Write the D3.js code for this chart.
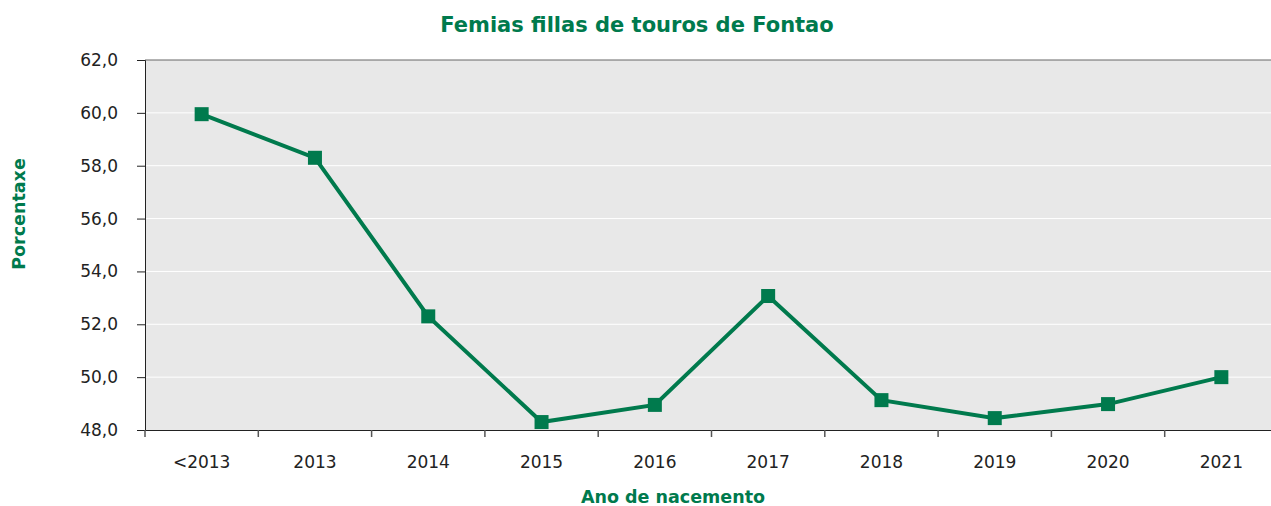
<!DOCTYPE html>
<html>
<head>
<meta charset="utf-8">
<script src="https://cdn.jsdelivr.net/npm/d3@7"></script>
<style>
  body { margin: 0; background: #fff; }
  text { font-family: "DejaVu Sans", sans-serif; }
</style>
</head>
<body>
<div id="chart"></div>
<script>
// Data
const years = ["<2013", "2013", "2014", "2015", "2016", "2017", "2018", "2019", "2020", "2021"];
const percents = [59.95, 58.3, 52.3, 48.3, 48.95, 53.07, 49.13, 48.45, 48.98, 50.0];
const yTicks = [48, 50, 52, 54, 56, 58, 60, 62];

const width = 1271,
  height = 506;

const margin = { top: 60, bottom: 76, left: 145, right: -7 };
const green = "#007a4d";

const svg = d3.select("#chart")
  .append("svg")
  .attr("width", width)
  .attr("height", height);

const xScale = d3.scaleBand()
  .domain(years)
  .range([margin.left, width - margin.right]);

const yScale = d3.scaleLinear()
  .domain([48, 62])
  .range([height - margin.bottom, margin.top]);

// Plot background
svg.append("rect")
  .attr("x", margin.left)
  .attr("y", margin.top)
  .attr("width", width - margin.left)
  .attr("height", yScale(48) - yScale(62))
  .attr("fill", "#e8e8e8");

// Grid lines
svg.selectAll(".grid")
  .data(yTicks.filter(d => d > 48 && d < 62))
  .enter()
  .append("line")
  .attr("x1", margin.left)
  .attr("x2", width)
  .attr("y1", d => yScale(d))
  .attr("y2", d => yScale(d))
  .attr("stroke", "#fff")
  .attr("stroke-width", 1);

// Top border
svg.append("line")
  .attr("x1", margin.left)
  .attr("x2", width)
  .attr("y1", yScale(62))
  .attr("y2", yScale(62))
  .attr("stroke", "#666")
  .attr("stroke-width", 1);

// Y axis
const yAxis = svg.append("g")
  .attr("transform", `translate(${margin.left}, 0)`)
  .call(d3.axisLeft(yScale)
    .tickValues(yTicks)
    .tickSize(8)
    .tickPadding(19)
    .tickFormat(d => d3.format(".1f")(d).replace(".", ",")));
yAxis.select(".domain").attr("stroke", "#222");
yAxis.selectAll("line").attr("stroke", "#222");
yAxis.selectAll("text")
  .style("font-size", "17px")
  .attr("fill", "#222");

// X axis
const xAxis = svg.append("g")
  .attr("transform", `translate(0, ${yScale(48)})`)
  .call(d3.axisBottom(xScale).tickSize(0).tickPadding(26));
xAxis.select(".domain").attr("stroke", "#222");
xAxis.selectAll("text")
  .style("font-size", "17px")
  .attr("fill", "#222");

// Tick marks between categories
svg.selectAll(".xtick")
  .data(years)
  .enter()
  .append("line")
  .attr("x1", d => xScale(d))
  .attr("x2", d => xScale(d))
  .attr("y1", yScale(48))
  .attr("y2", yScale(48) + 7)
  .attr("stroke", "#555")
  .attr("stroke-width", 1.5);

// Line
const line = d3.line()
  .x((d, i) => xScale(years[i]) + xScale.bandwidth() / 2)
  .y(d => yScale(d));

svg.append("path")
  .datum(percents)
  .attr("fill", "none")
  .attr("stroke", green)
  .attr("stroke-width", 4)
  .attr("d", line);

// Markers
const size = 14;
svg.selectAll(".marker")
  .data(percents)
  .enter()
  .append("rect")
  .attr("x", (d, i) => xScale(years[i]) + xScale.bandwidth() / 2 - size / 2)
  .attr("y", d => yScale(d) - size / 2)
  .attr("width", size)
  .attr("height", size)
  .attr("fill", green);

// Title
svg.append("text")
  .attr("x", 637)
  .attr("y", 32)
  .attr("text-anchor", "middle")
  .style("font-size", "21px")
  .style("font-weight", "bold")
  .attr("fill", green)
  .text("Femias fillas de touros de Fontao");

// X axis label
svg.append("text")
  .attr("x", 673)
  .attr("y", 503)
  .attr("text-anchor", "middle")
  .style("font-size", "17.5px")
  .style("font-weight", "bold")
  .attr("fill", green)
  .text("Ano de nacemento");

// Y axis label
svg.append("text")
  .attr("transform", "rotate(-90)")
  .attr("x", -214)
  .attr("y", 25)
  .attr("text-anchor", "middle")
  .style("font-size", "17.5px")
  .style("font-weight", "bold")
  .attr("fill", green)
  .text("Porcentaxe");
</script>
</body>
</html>
